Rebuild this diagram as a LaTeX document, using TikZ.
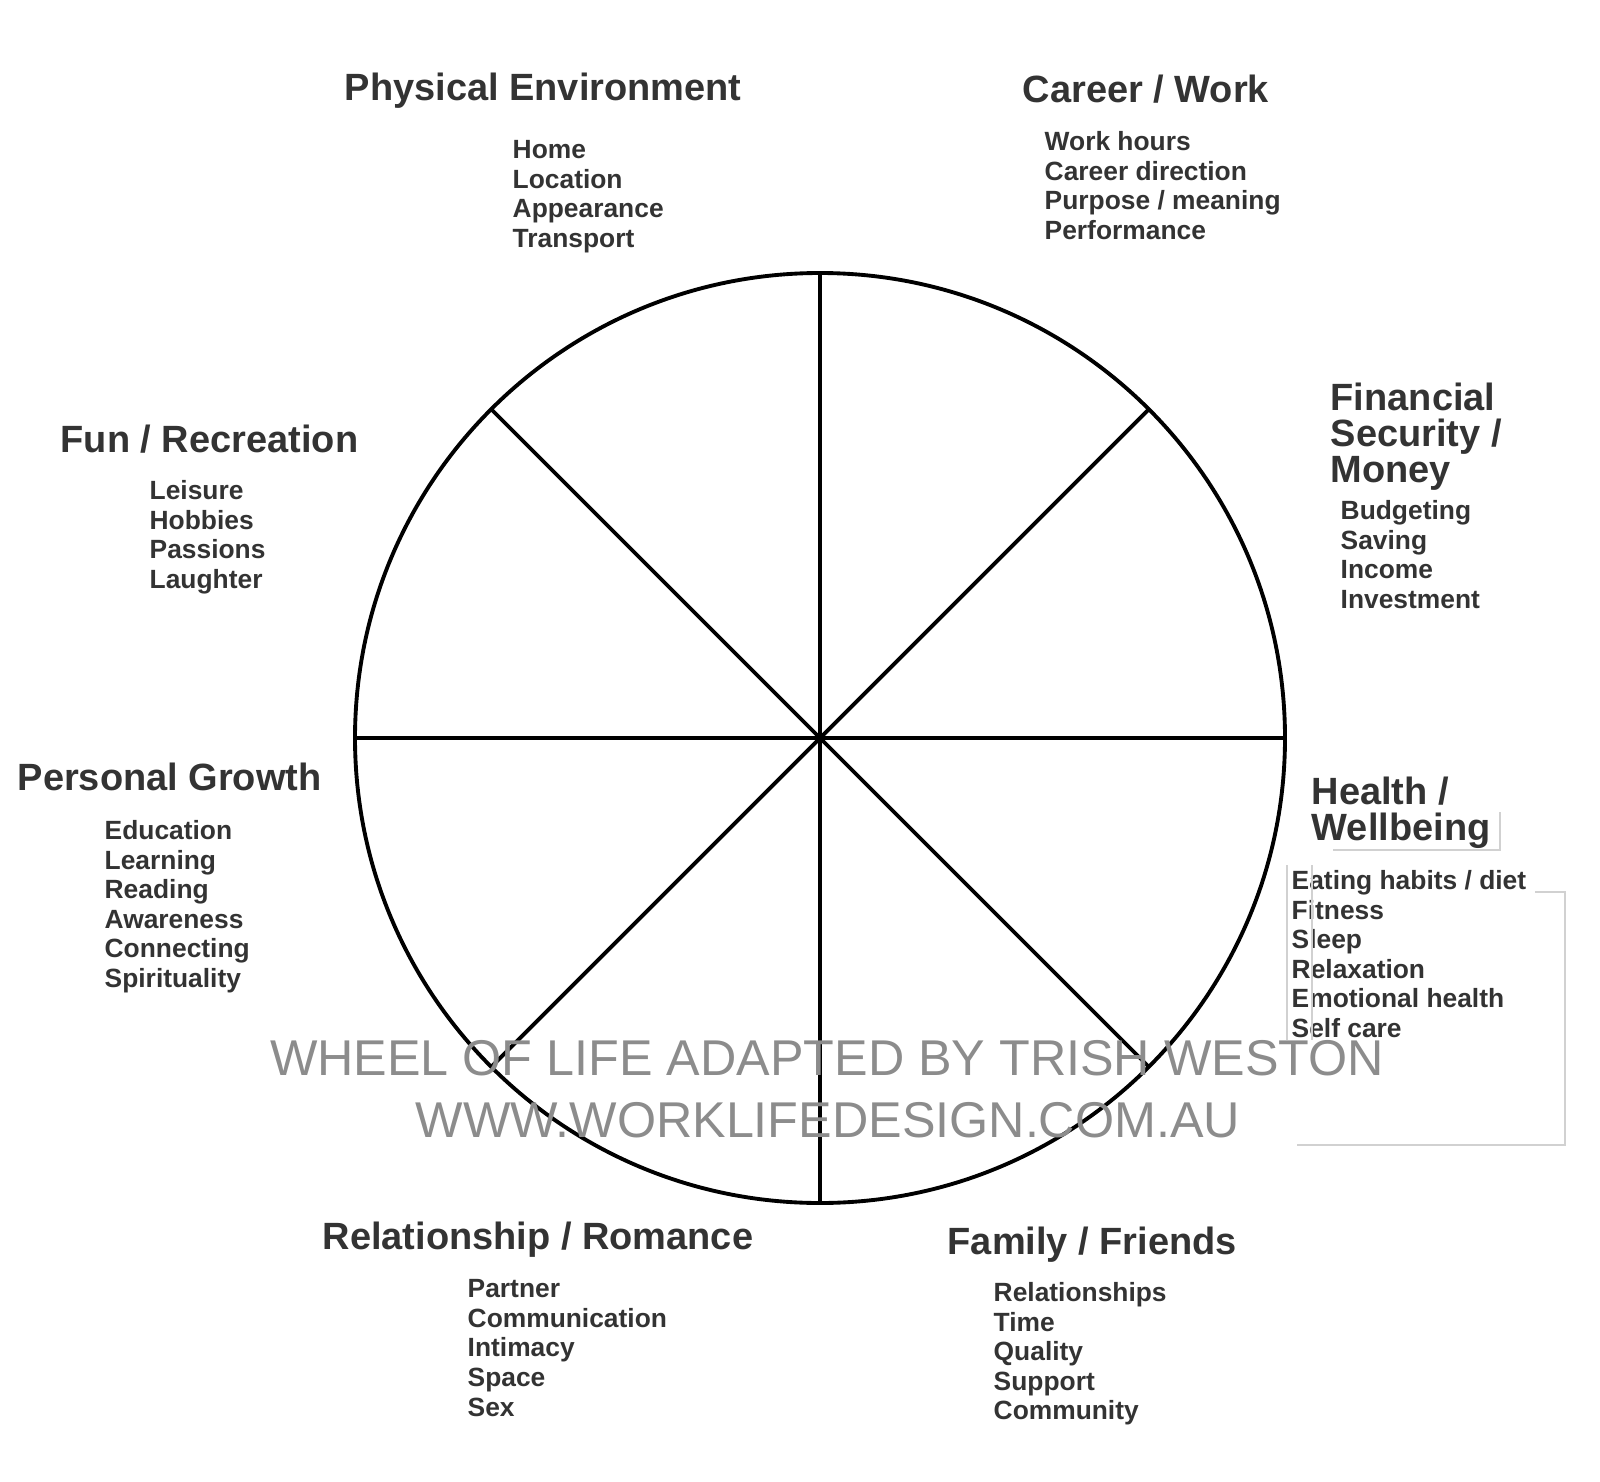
\documentclass[tikz,border=0pt]{standalone}
\usepackage{fontspec}
\setmainfont{Liberation Sans}
\definecolor{ink}{HTML}{333333}
\definecolor{mark}{HTML}{8C8C8C}
\tikzset{
  area/.style={anchor=north west, inner sep=0pt, align=left, text=ink,
    font=\bfseries\fontsize{10.8}{10.3}\selectfont},
  items/.style={anchor=north west, inner sep=0pt, align=left, text=ink,
    font=\bfseries\fontsize{7.5}{8.4}\selectfont},
  stamp/.style={inner sep=0pt, text=mark, font=\fontsize{14.3}{14.3}\selectfont},
  spoke/.style={line width=1.1pt},
  scanedge/.style={draw=black!18, line width=0.3pt}
}
\begin{document}
\begin{tikzpicture}[x=0.01cm, y=-0.01cm]
  \useasboundingbox (0,0) rectangle (1600,1482);

  % Rad
  \coordinate (C) at (820,738);
  \draw[spoke] (C) circle (465);
  \foreach \w in {0,45,...,315}
    \draw[spoke] (C) -- ++(\w:465);
  \fill (C) circle (4);

  % Bereiche
  \node[area]  (phys)  at (344,72)  {Physical Environment};
  \node[items] (physl) at (512,140) {Home\\Location\\Appearance\\Transport};

  \node[area]  (career)  at (1022,74)  {Career / Work};
  \node[items] (careerl) at (1044,131) {Work hours\\Career direction\\Purpose / meaning\\Performance};

  \node[area]  (money)  at (1330,382) {Financial\\Security /\\Money};
  \node[items] (moneyl) at (1340,500) {Budgeting\\Saving\\Income\\Investment};

  \node[area]  (health)  at (1311,776) {Health /\\Wellbeing};
  \node[items] (healthl) at (1291,870) {Eating habits / diet\\Fitness\\Sleep\\Relaxation\\Emotional health\\Self care};

  \node[area]  (family)  at (947,1226) {Family / Friends};
  \node[items] (familyl) at (993,1282) {Relationships\\Time\\Quality\\Support\\Community};

  \node[area]  (love)  at (322,1221) {Relationship / Romance};
  \node[items] (lovel) at (467,1279) {Partner\\Communication\\Intimacy\\Space\\Sex};

  \node[area]  (growth)  at (17,762) {Personal Growth};
  \node[items] (growthl) at (104,820) {Education\\Learning\\Reading\\Awareness\\Connecting\\Spirituality};

  \node[area]  (fun)  at (60,424)  {Fun / Recreation};
  \node[items] (funl) at (149,480) {Leisure\\Hobbies\\Passions\\Laughter};

  % Scan-Kanten
  \draw[scanedge] (1333,850) -- (1500,850) -- (1500,812);
  \draw[scanedge] (1312,865) -- (1312,1040);
  \draw[scanedge] (1287,865) -- (1287,1040);
  \draw[scanedge] (1535,892) -- (1565,892) -- (1565,1145) -- (1297,1145);

  % Wasserzeichen
  \node[stamp] (mark1) at (827,1058) {WHEEL OF LIFE ADAPTED BY TRISH WESTON};
  \node[stamp] (mark2) at (828,1120) {WWW.WORKLIFEDESIGN.COM.AU};
\end{tikzpicture}
\end{document}
